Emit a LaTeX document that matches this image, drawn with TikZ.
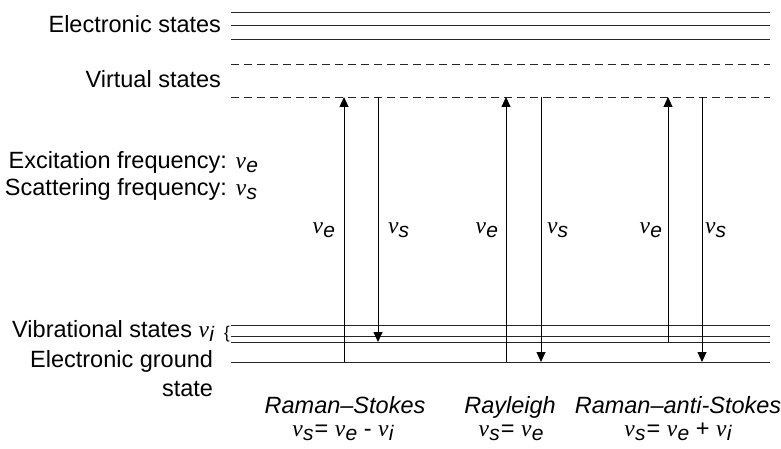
\documentclass[tikz,border=0pt]{standalone}
\usepackage{fontspec}
\setmainfont{Liberation Sans}
\newfontfamily\vfont{Liberation Serif}
\usetikzlibrary{arrows.meta}
\newcommand{\fq}[1]{{\vfont\itshape v}\kern0.3pt\raisebox{-4pt}{\fontsize{21}{21}\selectfont\itshape #1}}
\begin{document}
\begin{tikzpicture}[x=1pt,y=-1pt,
  every node/.style={inner sep=0pt, outer sep=0pt},
  txt/.style={font=\fontsize{23.5}{28}\selectfont},
  capt/.style={font=\fontsize{23.5}{28}\selectfont\itshape},
  level/.style={line width=0.9pt, draw=black!85},
  virt/.style={level, dash pattern=on 8pt off 5pt},
  trans/.style={line width=0.9pt, draw=black, -{Triangle[length=10pt,width=9pt]}}]
\useasboundingbox (0,0) rectangle (781,449);

% level end points
\foreach \n/\y in {e1/12, e2/25, e3/39, v1/64, v2/97, b1/325, b2/336, b3/342, g/362}{
  \coordinate (\n L) at (231,\y);
  \coordinate (\n R) at (770,\y);
}
\draw[level] (e1L) -- (e1R);
\draw[level] (e2L) -- (e2R);
\draw[level] (e3L) -- (e3R);
\draw[virt] (v1L) -- (v1R);
\draw[virt] (v2L) -- (v2R);
\draw[level] (b1L) -- (b1R);
\draw[level] (b2L) -- (b2R);
\draw[level] (b3L) -- (b3R);
\draw[level] (gL) -- (gR);

% transition end points
\coordinate (rsA) at (344,362); \coordinate (rsB) at (344,97);
\coordinate (rsC) at (378,97);  \coordinate (rsD) at (378,342);
\coordinate (rlA) at (506,362); \coordinate (rlB) at (506,97);
\coordinate (rlC) at (541,97);  \coordinate (rlD) at (541,362);
\coordinate (asA) at (668,342); \coordinate (asB) at (668,97);
\coordinate (asC) at (702,97);  \coordinate (asD) at (702,362);

\draw[trans] (rsA) -- (rsB);
\draw[trans] (rsC) -- (rsD);
\draw[trans] (rlA) -- (rlB);
\draw[trans] (rlC) -- (rlD);
\draw[trans] (asA) -- (asB);
\draw[trans] (asC) -- (asD);

% arrow labels
\node[txt, anchor=base east] (le1) at (335,233) {\fq{e}};
\node[txt, anchor=base west] (ls1) at (388,233) {\fq{s}};
\node[txt, anchor=base east] (le2) at (498,233) {\fq{e}};
\node[txt, anchor=base west] (ls2) at (547,233) {\fq{s}};
\node[txt, anchor=base east] (le3) at (662,233) {\fq{e}};
\node[txt, anchor=base west] (ls3) at (705,233) {\fq{s}};

% left labels
\node[txt, anchor=base east] (tel) at (221,33) {Electronic states};
\node[txt, anchor=base east] (tvi) at (221,88) {Virtual states};
\node[txt, anchor=base east] (tex) at (258,168) {Excitation frequency: \fq{e}};
\node[txt, anchor=base east] (tsc) at (257,195) {Scattering frequency: \fq{s}};
\node[txt, anchor=base east] (tvb) at (214,337) {Vibrational states \fq{i}};
\node[font=\fontsize{17}{17}\selectfont] (brace) at (227,334) {\{};
\node[txt, anchor=base east] (tgr) at (213,367) {Electronic ground};
\node[txt, anchor=base east] (tst) at (213,396) {state};

% bottom captions
\node[capt, anchor=base] (c1) at (345,413) {Raman--Stokes};
\node[txt, anchor=base] (f1) at (343,436) {\fq{s}\kern1pt= \fq{e} - \fq{i}};
\node[capt, anchor=base] (c2) at (510,413) {Rayleigh};
\node[txt, anchor=base] (f2) at (511,436) {\fq{s}\kern1pt= \fq{e}};
\node[capt, anchor=base] (c3) at (678,413) {Raman--anti-Stokes};
\node[txt, anchor=base] (f3) at (678,436) {\fq{s}\kern1pt= \fq{e} + \fq{i}};
\end{tikzpicture}
\end{document}
